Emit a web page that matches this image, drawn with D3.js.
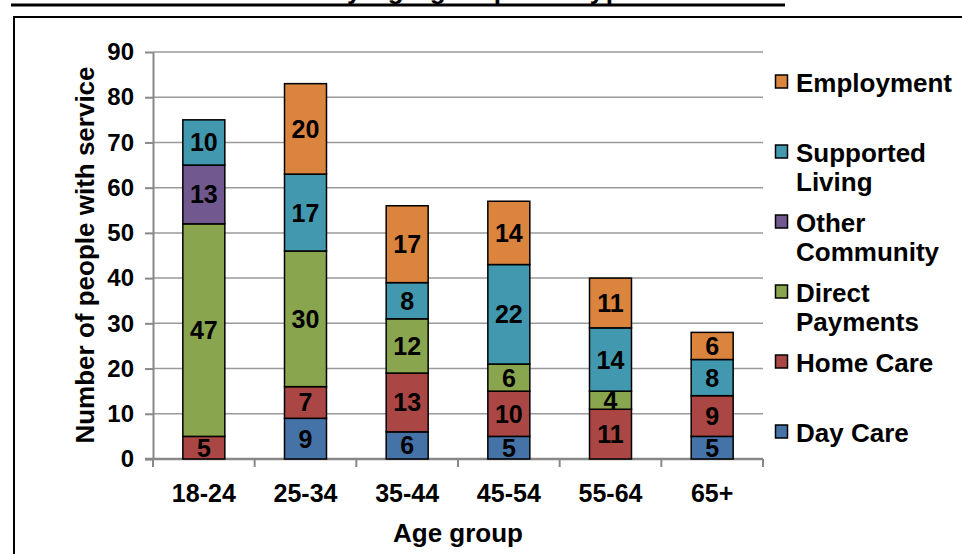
<!DOCTYPE html>
<html>
<head>
<meta charset="utf-8">
<script src="https://cdn.jsdelivr.net/npm/d3@7"></script>
<style>
  body { margin: 0; background: #fff; }
  svg text { font-family: "Liberation Sans", Arial, sans-serif; font-weight: bold; }
</style>
</head>
<body>
<svg id="chart" width="962" height="554"></svg>
<script>
// Data
var ageGroups = ['18-24', '25-34', '35-44', '45-54', '55-64', '65+']
var services = ['Day Care', 'Home Care', 'Direct Payments', 'Other Community', 'Supported Living', 'Employment']
var dayCare = [0, 9, 6, 5, 0, 5]
var homeCare = [5, 7, 13, 10, 11, 9]
var directPayments = [47, 30, 12, 6, 4, 0]
var otherCommunity = [13, 0, 0, 0, 0, 0]
var supportedLiving = [10, 17, 8, 22, 14, 8]
var employment = [0, 20, 17, 14, 11, 6]
var colors = ['#4572A7', '#AA4643', '#89A54E', '#71588F', '#4198AF', '#DB843D']
var yTicks = [0, 10, 20, 30, 40, 50, 60, 70, 80, 90]
var title = 'Chart of Service users by age group and type of service'

var series = [dayCare, homeCare, directPayments, otherCommunity, supportedLiving, employment]
var rows = ageGroups.map(function (g, i) {
  var r = { group: g }
  services.forEach(function (s, j) { r[s] = series[j][i] })
  return r
})

var svg = d3.select('#chart')

// title (cut off at the top of the picture) + frame
svg.append('text')
  .attr('x', 11).attr('y', -1)
  .attr('font-size', 26)
  .attr('textLength', 772)
  .text(title)
svg.append('rect')
  .attr('x', 11).attr('y', 3.5).attr('width', 774).attr('height', 3)
  .attr('fill', '#000')
svg.append('rect')
  .attr('x', 14).attr('y', 17).attr('width', 980).attr('height', 600)
  .attr('fill', 'none').attr('stroke', '#000').attr('stroke-width', 2)

// scales
var x = d3.scaleBand().domain(ageGroups).range([153, 763])
  .paddingInner(0.587).paddingOuter(0.2935)
var y = d3.scaleLinear().domain([0, 90]).range([459, 52])
var color = d3.scaleOrdinal().domain(services).range(colors)

// gridlines
svg.append('g')
  .selectAll('line')
  .data(yTicks.slice(1))
  .enter()
  .append('line')
  .attr('x1', 153).attr('x2', 763)
  .attr('y1', function (d) { return y(d) }).attr('y2', function (d) { return y(d) })
  .attr('stroke', '#9a9a9a').attr('stroke-width', 1.5)

// y axis
var yAxis = svg.append('g')
  .attr('transform', 'translate(153,0)')
  .call(d3.axisLeft(y).tickValues(yTicks).tickSize(8).tickPadding(11).tickSizeOuter(0))
yAxis.select('.domain').attr('stroke', '#888').attr('stroke-width', 2)
yAxis.selectAll('.tick line').attr('stroke', '#888').attr('stroke-width', 2)
yAxis.selectAll('.tick text')
  .attr('font-size', 24).attr('fill', '#000')
  .attr('font-family', '"Liberation Sans", Arial, sans-serif').attr('font-weight', 'bold')
yAxis.append('line').attr('x1', 0).attr('x2', 0).attr('y1', 459).attr('y2', 467)
  .attr('stroke', '#888').attr('stroke-width', 2)

// x axis
var boundaries = ageGroups.map(function (g) { return x(g) - x.step() * x.paddingInner() / 2 })
boundaries.push(763)
var xAxis = svg.append('g')
xAxis.append('line')
  .attr('x1', 145).attr('x2', 763).attr('y1', 459).attr('y2', 459)
  .attr('stroke', '#888').attr('stroke-width', 2.5)
xAxis.selectAll('line.tk')
  .data(boundaries.slice(1))
  .enter()
  .append('line').attr('class', 'tk')
  .attr('x1', function (d) { return d }).attr('x2', function (d) { return d })
  .attr('y1', 459).attr('y2', 467)
  .attr('stroke', '#888').attr('stroke-width', 2)
xAxis.selectAll('text')
  .data(ageGroups)
  .enter()
  .append('text')
  .attr('x', function (d) { return x(d) + x.bandwidth() / 2 })
  .attr('y', 502)
  .attr('text-anchor', 'middle')
  .attr('font-size', 25)
  .text(function (d) { return d })

// axis titles
svg.append('text')
  .attr('x', 458).attr('y', 542)
  .attr('text-anchor', 'middle').attr('font-size', 26)
  .text('Age group')
svg.append('text')
  .attr('transform', 'translate(94,255) rotate(-90)')
  .attr('text-anchor', 'middle').attr('font-size', 26)
  .text('Number of people with service')

// stacked bars
var stacked = d3.stack().keys(services)(rows)
var layers = svg.append('g')
  .selectAll('g')
  .data(stacked)
  .enter()
  .append('g')
  .attr('fill', function (d) { return color(d.key) })

layers.selectAll('rect')
  .data(function (d) { return d.filter(function (p) { return p[1] - p[0] > 0 }) })
  .enter()
  .append('rect')
  .attr('x', function (d) { return x(d.data.group) })
  .attr('width', x.bandwidth())
  .attr('y', function (d) { return y(d[1]) })
  .attr('height', function (d) { return y(d[0]) - y(d[1]) })
  .attr('stroke', '#000').attr('stroke-width', 1.5)

layers.selectAll('text')
  .data(function (d) { return d.filter(function (p) { return p[1] - p[0] > 0 }) })
  .enter()
  .append('text')
  .attr('x', function (d) { return x(d.data.group) + x.bandwidth() / 2 })
  .attr('y', function (d) { return (y(d[0]) + y(d[1])) / 2 + 9 })
  .attr('text-anchor', 'middle')
  .attr('font-size', 25)
  .attr('fill', '#000')
  .text(function (d) { return d[1] - d[0] })

// legend, top to bottom
var legendItems = services.slice().reverse()
var legendLines = {
  'Employment': ['Employment'],
  'Supported Living': ['Supported', 'Living'],
  'Other Community': ['Other', 'Community'],
  'Direct Payments': ['Direct', 'Payments'],
  'Home Care': ['Home Care'],
  'Day Care': ['Day Care']
}
var legend = svg.append('g')
  .selectAll('g')
  .data(legendItems)
  .enter()
  .append('g')
  .attr('transform', function (d, i) { return 'translate(775,' + (92 + i * 70) + ')' })
legend.append('rect')
  .attr('x', 0.5).attr('y', -17).attr('width', 12).attr('height', 13)
  .attr('fill', function (d) { return color(d) })
  .attr('stroke', '#000').attr('stroke-width', 1.5)
legend.append('text')
  .attr('x', 21).attr('font-size', 26)
  .selectAll('tspan')
  .data(function (d) { return legendLines[d] })
  .enter()
  .append('tspan')
  .attr('x', 21)
  .attr('dy', function (d, i) { return i === 0 ? 0 : 29 })
  .text(function (d) { return d })
</script>
</body>
</html>
